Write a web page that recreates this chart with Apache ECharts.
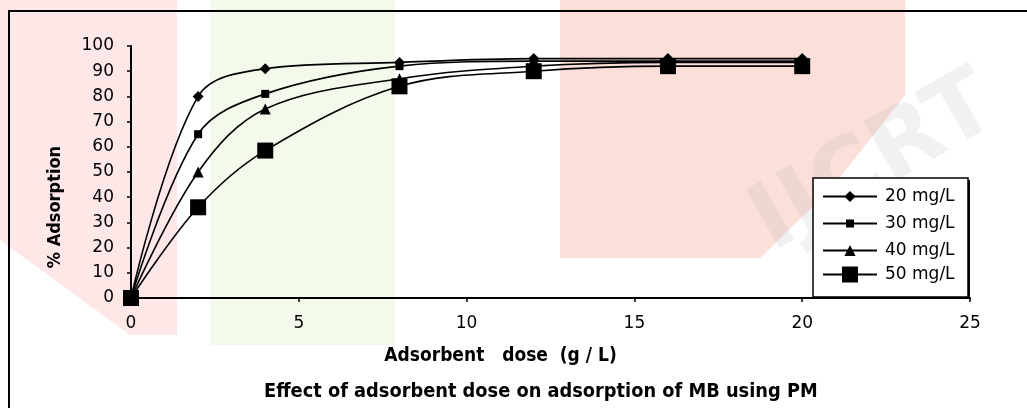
<!DOCTYPE html>
<html>
<head>
<meta charset="utf-8">
<script src="https://cdn.jsdelivr.net/npm/echarts@6/dist/echarts.min.js"></script>
<style>
  html, body { margin: 0; padding: 0; background: #ffffff; }
  #chart { width: 1027px; height: 408px; }
</style>
</head>
<body>
<div id="chart"></div>
<script>
// Adsorbent dose (g / L) and % adsorption for each initial MB concentration
const doses = [0, 2, 4, 8, 12, 16, 20];
const seriesNames = ['20 mg/L', '30 mg/L', '40 mg/L', '50 mg/L'];
const ads20 = [0, 80, 91, 93.5, 95, 95, 95];
const ads30 = [0, 65, 81, 92, 94, 94, 94];
const ads40 = [0, 50, 75, 87, 92, 93.5, 93.5];
const ads50 = [0, 36, 58.5, 84, 90, 92, 92];
const xTicks = [0, 5, 10, 15, 20, 25];
const yTicks = [0, 10, 20, 30, 40, 50, 60, 70, 80, 90, 100];

const pairs = (ys) => doses.map((d, i) => [d, ys[i]]);
const allValues = [ads20, ads30, ads40, ads50];

// marker shape and size per concentration
const markerStyles = [
  { symbol: 'diamond', size: 11 },
  { symbol: 'rect', size: 8 },
  { symbol: 'triangle', size: 11 },
  { symbol: 'rect', size: 16 }
];

// legend box geometry
const legendBox = { x: 813, y: 178, w: 155, h: 119 };
const legendRowY = [195, 222, 249, 276];
const legendLineHeight = 14;

const chart = echarts.init(document.getElementById('chart'), null, { renderer: 'canvas' });

const tickFont = { fontFamily: 'DejaVu Sans', fontSize: 17, color: '#000' };
const boldFont = 'DejaVu Sans Condensed, Liberation Sans, sans-serif';

// one legend per series so each keeps its own marker size
const legends = seriesNames.map((name, i) => {
  const h = Math.round(markerStyles[i].size / 0.8);
  const rowH = Math.max(h, legendLineHeight);
  return {
    data: [name],
    orient: 'vertical',
    left: 822,
    top: legendRowY[i] - rowH / 2,
    padding: 0,
    itemWidth: 54,
    itemHeight: h,
    selectedMode: false,
    textStyle: { fontFamily: 'DejaVu Sans', fontSize: 17, lineHeight: legendLineHeight, color: '#000', padding: [0, 0, 0, 3] }
  };
});

chart.setOption({
  animation: false,
  backgroundColor: '#ffffff',
  title: {
    text: 'Effect of adsorbent dose on adsorption of MB using PM',
    left: 259,
    top: 377,
    textStyle: { fontFamily: boldFont, fontWeight: 'bold', fontSize: 19.8, color: '#000' }
  },
  graphic: [
    // faint background watermark panels
    { type: 'polygon', z: -10, silent: true,
      shape: { points: [[0, 0], [177, 0], [177, 335], [130, 335], [0, 240]] },
      style: { fill: '#fde8e7' } },
    { type: 'rect', z: -10, silent: true,
      shape: { x: 210, y: 0, width: 185, height: 345 },
      style: { fill: '#f3faeb' } },
    { type: 'polygon', z: -10, silent: true,
      shape: { points: [[560, 0], [905, 0], [905, 95], [830, 190], [760, 258], [560, 258]] },
      style: { fill: '#fcdfd8' } },
    { type: 'text', z: -9, silent: true, x: 875, y: 165, rotation: Math.PI / 6,
      style: { text: 'IJCRT', fontFamily: 'DejaVu Sans', fontWeight: 'bold', fontSize: 92,
               fill: 'rgba(185,185,185,0.2)', align: 'center', verticalAlign: 'middle' } },
    // outer frame
    { type: 'polyline', z: 5, silent: true,
      shape: { points: [[9, 408], [9, 11], [1027, 11]] },
      style: { stroke: '#000', lineWidth: 2, fill: null } },
    // legend frame with its drop shadow
    { type: 'rect', z: 3, silent: true,
      shape: { x: legendBox.x + 2, y: legendBox.y + 2, width: legendBox.w, height: legendBox.h },
      style: { fill: '#000' } },
    { type: 'rect', z: 3, silent: true,
      shape: { x: legendBox.x, y: legendBox.y, width: legendBox.w, height: legendBox.h },
      style: { fill: '#ffffff', stroke: '#000', lineWidth: 1.5 } }
  ],
  grid: { left: 131, right: 57, top: 46, bottom: 110, containLabel: false },
  legend: legends,
  xAxis: {
    type: 'value',
    min: 0, max: 25, interval: 5,
    name: 'Adsorbent   dose  (g / L)',
    nameLocation: 'middle',
    nameGap: 49,
    nameTextStyle: { fontFamily: boldFont, fontWeight: 'bold', fontSize: 19, color: '#000', padding: [0, 100, 0, 0] },
    axisLine: { show: true, onZero: false, lineStyle: { color: '#000', width: 2 } },
    axisTick: { show: true, inside: false, length: 4, lineStyle: { color: '#000', width: 1.5 } },
    axisLabel: { ...tickFont, margin: 17, formatter: (v) => xTicks.includes(v) ? String(v) : '' },
    splitLine: { show: false }
  },
  yAxis: {
    type: 'value',
    min: 0, max: 100, interval: 10,
    name: '% Adsorption',
    nameLocation: 'middle',
    nameGap: 67,
    nameRotate: 90,
    nameTextStyle: { fontFamily: boldFont, fontWeight: 'bold', fontSize: 18, color: '#000', padding: [0, 70, 0, 0] },
    axisLine: { show: true, onZero: false, lineStyle: { color: '#000', width: 2 } },
    axisTick: { show: true, inside: false, length: 4, lineStyle: { color: '#000', width: 1.5 } },
    axisLabel: { ...tickFont, margin: 17, formatter: (v) => yTicks.includes(v) ? String(v) : '' },
    splitLine: { show: false }
  },
  series: seriesNames.map((name, i) => ({
    name,
    type: 'line',
    data: pairs(allValues[i]),
    smooth: 0.35,
    symbol: markerStyles[i].symbol,
    symbolSize: markerStyles[i].size,
    showAllSymbol: true,
    clip: false,
    z: 3 + i,
    lineStyle: { color: '#000', width: 1.6 },
    itemStyle: { color: '#000', borderColor: '#000', borderWidth: 0 }
  }))
});
</script>
</body>
</html>
